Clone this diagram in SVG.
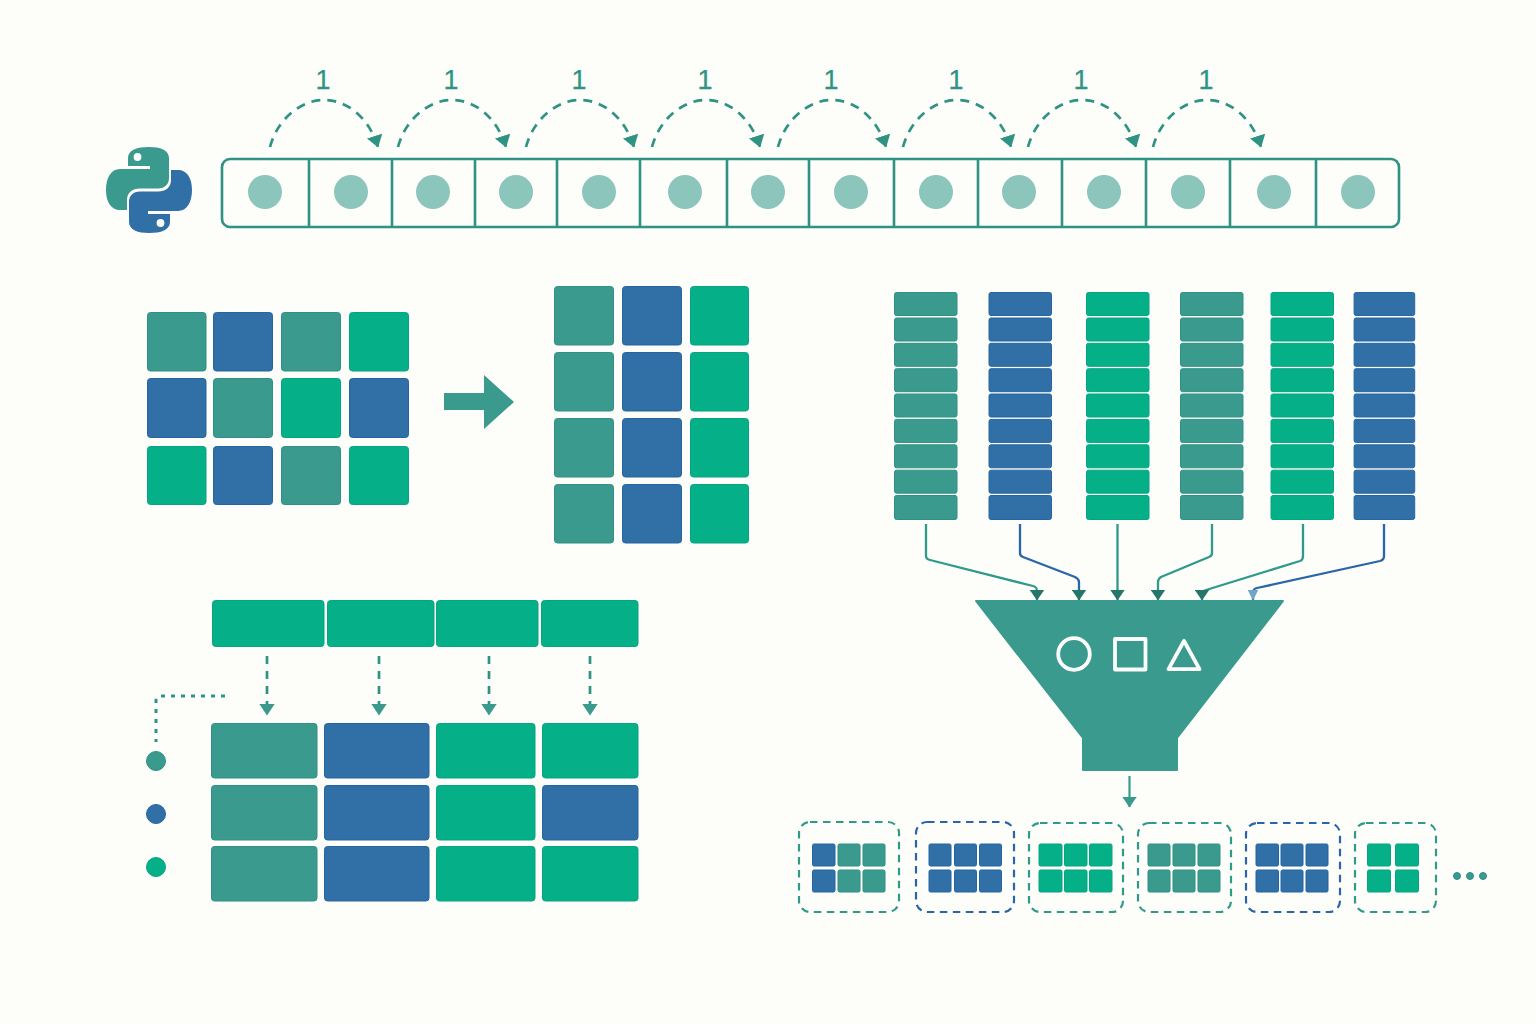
<svg xmlns="http://www.w3.org/2000/svg" xmlns:xlink="http://www.w3.org/1999/xlink" width="1536" height="1024" viewBox="0 0 1536 1024">
<style>
.t{fill:#3A9A8E;stroke:#2F9083;stroke-width:1}.b{fill:#3170A6;stroke:#2565A2;stroke-width:1}.g{fill:#05AF87;stroke:#05A580;stroke-width:1}
.num{font-family:"Liberation Sans",Arial,sans-serif;font-size:27px;fill:#2F9384;stroke:#2F9384;stroke-width:.25;text-anchor:middle}
.arc{fill:none;stroke:#2F9384;stroke-width:2.7;stroke-dasharray:9 7;marker-end:url(#arcHead)}
.cell{fill:none;stroke:#2F9384;stroke-width:2.6}
.dot{fill:#8BC5BB}
.in{fill:none;stroke-width:2.3;stroke-linejoin:round;marker-end:url(#inHead)}
.tl{stroke:#2F9A8A}.bl{stroke:#2A65A8}
.drop{fill:none;stroke:#2F9384;stroke-width:2.7;stroke-dasharray:8 7;marker-end:url(#dropHead)}
.dash{fill:none;stroke-width:2.2;stroke-dasharray:7.5 5.5}
.icon{fill:none;stroke:#FBFDFB;stroke-width:3.8;stroke-linejoin:round}
</style>
<defs>
<marker id="arcHead" markerUnits="userSpaceOnUse" markerWidth="12" markerHeight="16" viewBox="0 0 12 16" refX="11.5" refY="8" orient="auto"><path d="M0 0L12 8L0 16z" fill="#2F9384"/></marker>
<marker id="inHead" markerUnits="userSpaceOnUse" markerWidth="11" markerHeight="15" viewBox="0 0 11 15" refX="10.5" refY="7.5" orient="auto"><path d="M0 0L11 7.5L0 15z" fill="#25756B"/></marker>
<marker id="inHeadB" markerUnits="userSpaceOnUse" markerWidth="11" markerHeight="11" viewBox="0 0 11 11" refX="10.5" refY="5.5" orient="auto"><path d="M0 0L11 5.5L0 11z" fill="#6FA6C9"/></marker>
<marker id="outHead" markerUnits="userSpaceOnUse" markerWidth="11" markerHeight="15" viewBox="0 0 11 15" refX="10.5" refY="7.5" orient="auto"><path d="M0 0L11 7.5L0 15z" fill="#3A9A8E"/></marker>
<marker id="dropHead" markerUnits="userSpaceOnUse" markerWidth="12" markerHeight="16" viewBox="0 0 12 16" refX="11.5" refY="8" orient="auto"><path d="M0 0L12 8L0 16z" fill="#3A9A8E"/></marker>
<g id="cells">
<rect x=".5" y="292.5" width="62.5" height="23" rx="2"/><rect x=".5" y="318" width="62.5" height="23" rx="2"/><rect x=".5" y="343.3" width="62.5" height="23" rx="2"/><rect x=".5" y="368.7" width="62.5" height="23" rx="2"/><rect x=".5" y="394" width="62.5" height="23" rx="2"/><rect x=".5" y="419.4" width="62.5" height="23" rx="2"/><rect x=".5" y="444.8" width="62.5" height="23" rx="2"/><rect x=".5" y="470.2" width="62.5" height="23" rx="2"/><rect x=".5" y="495.5" width="62.5" height="24" rx="2"/>
</g>
<path id="snake" d="M149 147C137 147 128 150 128 158L128 166L150 166L150 169L120 169C111 169 106 178 106 190C106 202 111 210 120 210L127 210L127 200C127 193 132 188.5 140 188.5L158 188.5C165 188.5 169 184 169 178L169 158C169 150 160 147 149 147Z"/>
</defs>
<rect width="1536" height="1024" fill="#FDFDF9"/>

<g id="python-logo">
<use href="#snake" class="t" style="stroke:none"/>
<use href="#snake" class="b" style="stroke:none" transform="rotate(180 149 190)"/>
<circle cx="137.5" cy="157" r="3.9" fill="#FDFDF9"/>
<circle cx="160.5" cy="223" r="3.9" fill="#FDFDF9"/>
</g>

<g id="array">
<rect class="cell" x="222" y="159" width="1177" height="68" rx="8"/>
<path class="cell" d="M309 159V227M392 159V227M475 159V227M557 159V227M640 159V227M727 159V227M809 159V227M894 159V227M978 159V227M1062 159V227M1146 159V227M1230 159V227M1316 159V227"/>
<circle class="dot" cx="265" cy="192" r="17"/><circle class="dot" cx="351" cy="192" r="17"/><circle class="dot" cx="433" cy="192" r="17"/><circle class="dot" cx="516" cy="192" r="17"/><circle class="dot" cx="599" cy="192" r="17"/><circle class="dot" cx="685" cy="192" r="17"/><circle class="dot" cx="768" cy="192" r="17"/><circle class="dot" cx="851" cy="192" r="17"/><circle class="dot" cx="936" cy="192" r="17"/><circle class="dot" cx="1019" cy="192" r="17"/><circle class="dot" cx="1104" cy="192" r="17"/><circle class="dot" cx="1188" cy="192" r="17"/><circle class="dot" cx="1274" cy="192" r="17"/><circle class="dot" cx="1358" cy="192" r="17"/>
</g>

<g id="step-labels">
<text class="num" x="323" y="88.5">1</text><text class="num" x="451" y="88.5">1</text><text class="num" x="579" y="88.5">1</text><text class="num" x="705" y="88.5">1</text><text class="num" x="831" y="88.5">1</text><text class="num" x="956" y="88.5">1</text><text class="num" x="1081" y="88.5">1</text><text class="num" x="1206" y="88.5">1</text>
</g>

<g id="step-arcs">
<path class="arc" d="M270 147c7-27 30-47 54-47c21 0 44 15 54 47"/>
<path class="arc" d="M398 147c7-27 30-47 54-47c21 0 44 15 54 47"/>
<path class="arc" d="M526 147c7-27 30-47 54-47c21 0 44 15 54 47"/>
<path class="arc" d="M652 147c7-27 30-47 54-47c21 0 44 15 54 47"/>
<path class="arc" d="M778 147c7-27 30-47 54-47c21 0 44 15 54 47"/>
<path class="arc" d="M903 147c7-27 30-47 54-47c21 0 44 15 54 47"/>
<path class="arc" d="M1028 147c7-27 30-47 54-47c21 0 44 15 54 47"/>
<path class="arc" d="M1153 147c7-27 30-47 54-47c21 0 44 15 54 47"/>
</g>

<g id="grid-wide">
<rect class="t" x="147.5" y="312.5" width="58.5" height="58.5" rx="3"/><rect class="b" x="213.5" y="312.5" width="59" height="58.5" rx="3"/><rect class="t" x="281.5" y="312.5" width="59" height="58.5" rx="3"/><rect class="g" x="349.5" y="312.5" width="59" height="58.5" rx="3"/>
<rect class="b" x="147.5" y="378.5" width="58.5" height="59" rx="3"/><rect class="t" x="213.5" y="378.5" width="59" height="59" rx="3"/><rect class="g" x="281.5" y="378.5" width="59" height="59" rx="3"/><rect class="b" x="349.5" y="378.5" width="59" height="59" rx="3"/>
<rect class="g" x="147.5" y="446.5" width="58.5" height="58" rx="3"/><rect class="b" x="213.5" y="446.5" width="59" height="58" rx="3"/><rect class="t" x="281.5" y="446.5" width="59" height="58" rx="3"/><rect class="g" x="349.5" y="446.5" width="59" height="58" rx="3"/>
</g>

<g id="reshape-arrow">
<path class="t" style="stroke:none" d="M444 393H484V375L514 402L484 429V410H444Z"/>
</g>

<g id="grid-tall">
<rect class="t" x="554.5" y="286.5" width="59" height="58.5" rx="3"/><rect class="b" x="622.5" y="286.5" width="59" height="58.5" rx="3"/><rect class="g" x="690.5" y="286.5" width="58" height="58.5" rx="3"/>
<rect class="t" x="554.5" y="352.5" width="59" height="58.5" rx="3"/><rect class="b" x="622.5" y="352.5" width="59" height="58.5" rx="3"/><rect class="g" x="690.5" y="352.5" width="58" height="58.5" rx="3"/>
<rect class="t" x="554.5" y="418.5" width="59" height="58.5" rx="3"/><rect class="b" x="622.5" y="418.5" width="59" height="58.5" rx="3"/><rect class="g" x="690.5" y="418.5" width="58" height="58.5" rx="3"/>
<rect class="t" x="554.5" y="484.5" width="59" height="58.5" rx="3"/><rect class="b" x="622.5" y="484.5" width="59" height="58.5" rx="3"/><rect class="g" x="690.5" y="484.5" width="58" height="58.5" rx="3"/>
</g>

<g id="stack-1"><use href="#cells" class="t" x="894"/></g>
<g id="stack-2"><use href="#cells" class="b" x="988.5"/></g>
<g id="stack-3"><use href="#cells" class="g" x="1086"/></g>
<g id="stack-4"><use href="#cells" class="t" x="1180"/></g>
<g id="stack-5"><use href="#cells" class="g" x="1270.5"/></g>
<g id="stack-6"><use href="#cells" class="b" transform="translate(1353.6 0) scale(.97 1)"/></g>

<g id="connectors">
<path class="in tl" d="M926 524V556Q926 559 930 560L1033 586Q1037 587 1037 591V600"/>
<path class="in bl" d="M1020 524V553Q1020 556 1023 557L1075 577Q1079 579 1079 582V600"/>
<path class="in tl" d="M1117.5 524V600"/>
<path class="in tl" d="M1212 524V553Q1212 556 1209 557L1161 577Q1158 579 1158 582V600"/>
<path class="in tl" d="M1303 524V556Q1303 560 1300 561L1206 590Q1202 591 1202 594V600"/>
<path class="in bl" style="marker-end:url(#inHeadB)" d="M1384 524V556Q1384 560 1380 561L1257 588Q1253 589 1253 592V600"/>
<path fill="none" stroke="#3A9A8E" stroke-width="2.2" marker-end="url(#outHead)" d="M1129.5 776V807"/>
<path class="drop" d="M267 656V715"/>
<path class="drop" d="M379 656V715"/>
<path class="drop" d="M489 656V715"/>
<path class="drop" d="M590 656V715"/>
<path fill="none" stroke="#2F9384" stroke-width="3" stroke-dasharray="4 6" d="M225 696H161Q156 696 156 701V742"/>
</g>

<g id="funnel">
<path class="t" style="stroke:#3A9A8E;stroke-width:2;stroke-linejoin:round" d="M976 601H1283L1177 738V770H1083V738Z"/>
<circle class="icon" cx="1074" cy="654" r="15.8"/>
<rect class="icon" x="1115" y="639" width="30.5" height="30.5"/>
<path class="icon" d="M1184 641L1168.5 669.2H1199.5Z"/>
</g>

<g id="header">
<rect class="g" x="212.5" y="600.5" width="111.5" height="46" rx="3"/><rect class="g" x="327.5" y="600.5" width="106.5" height="46" rx="3"/><rect class="g" x="436.5" y="600.5" width="101.5" height="46" rx="3"/><rect class="g" x="541.5" y="600.5" width="96.5" height="46" rx="3"/>
</g>

<g id="table">
<rect class="t" x="211.5" y="723.5" width="105.5" height="54.5" rx="3"/><rect class="b" x="324.5" y="723.5" width="104.5" height="54.5" rx="3"/><rect class="g" x="436.5" y="723.5" width="98.5" height="54.5" rx="3"/><rect class="g" x="542.5" y="723.5" width="95.5" height="54.5" rx="3"/>
<rect class="t" x="211.5" y="785.5" width="105.5" height="54.5" rx="3"/><rect class="b" x="324.5" y="785.5" width="104.5" height="54.5" rx="3"/><rect class="g" x="436.5" y="785.5" width="98.5" height="54.5" rx="3"/><rect class="b" x="542.5" y="785.5" width="95.5" height="54.5" rx="3"/>
<rect class="t" x="211.5" y="846.5" width="105.5" height="54.5" rx="3"/><rect class="b" x="324.5" y="846.5" width="104.5" height="54.5" rx="3"/><rect class="g" x="436.5" y="846.5" width="98.5" height="54.5" rx="3"/><rect class="g" x="542.5" y="846.5" width="95.5" height="54.5" rx="3"/>
</g>

<g id="legend">
<circle class="t" cx="156" cy="761" r="9.5"/><circle class="b" cx="156" cy="814" r="9.5"/><circle class="g" cx="156" cy="867" r="9.5"/>
</g>

<g id="batch-1">
<rect class="dash tl" x="799" y="822" width="100" height="90" rx="11"/>
<rect class="b" x="812.5" y="844" width="22.5" height="22" rx="1.5"/><rect class="t" x="838" y="844" width="22" height="22" rx="1.5"/><rect class="t" x="863" y="844" width="22" height="22" rx="1.5"/>
<rect class="b" x="812.5" y="870" width="22.5" height="22" rx="1.5"/><rect class="t" x="838" y="870" width="22" height="22" rx="1.5"/><rect class="t" x="863" y="870" width="22" height="22" rx="1.5"/>
</g>
<g id="batch-2">
<rect class="dash bl" x="916" y="822" width="98" height="90" rx="11"/>
<rect class="b" x="929" y="844" width="22" height="22" rx="1.5"/><rect class="b" x="954.5" y="844" width="22" height="22" rx="1.5"/><rect class="b" x="979.5" y="844" width="22" height="22" rx="1.5"/>
<rect class="b" x="929" y="870" width="22" height="22" rx="1.5"/><rect class="b" x="954.5" y="870" width="22" height="22" rx="1.5"/><rect class="b" x="979.5" y="870" width="22" height="22" rx="1.5"/>
</g>
<g id="batch-3">
<rect class="dash tl" x="1029" y="823" width="94" height="89" rx="11"/>
<rect class="g" x="1039" y="844" width="23" height="22" rx="1.5"/><rect class="g" x="1064.5" y="844" width="22.5" height="22" rx="1.5"/><rect class="g" x="1089.5" y="844" width="22.5" height="22" rx="1.5"/>
<rect class="g" x="1039" y="870" width="23" height="22" rx="1.5"/><rect class="g" x="1064.5" y="870" width="22.5" height="22" rx="1.5"/><rect class="g" x="1089.5" y="870" width="22.5" height="22" rx="1.5"/>
</g>
<g id="batch-4">
<rect class="dash tl" x="1138" y="823" width="93" height="89" rx="11"/>
<rect class="t" x="1148" y="844" width="22" height="22" rx="1.5"/><rect class="t" x="1173" y="844" width="22" height="22" rx="1.5"/><rect class="t" x="1198" y="844" width="22" height="22" rx="1.5"/>
<rect class="t" x="1148" y="870" width="22" height="22" rx="1.5"/><rect class="t" x="1173" y="870" width="22" height="22" rx="1.5"/><rect class="t" x="1198" y="870" width="22" height="22" rx="1.5"/>
</g>
<g id="batch-5">
<rect class="dash bl" x="1246" y="823" width="94" height="89" rx="11"/>
<rect class="b" x="1256" y="844" width="22.5" height="22" rx="1.5"/><rect class="b" x="1281" y="844" width="22" height="22" rx="1.5"/><rect class="b" x="1306" y="844" width="22" height="22" rx="1.5"/>
<rect class="b" x="1256" y="870" width="22.5" height="22" rx="1.5"/><rect class="b" x="1281" y="870" width="22" height="22" rx="1.5"/><rect class="b" x="1306" y="870" width="22" height="22" rx="1.5"/>
</g>
<g id="batch-6">
<rect class="dash tl" x="1355" y="823" width="81" height="89" rx="11"/>
<rect class="g" x="1367.5" y="844" width="23" height="22" rx="1.5"/><rect class="g" x="1395.5" y="844" width="23" height="22" rx="1.5"/>
<rect class="g" x="1367.5" y="870" width="23" height="22" rx="1.5"/><rect class="g" x="1395.5" y="870" width="23" height="22" rx="1.5"/>
</g>
<g id="ellipsis">
<circle class="t" cx="1457" cy="876" r="3.5"/><circle class="t" cx="1470" cy="876" r="3.5"/><circle class="t" cx="1483" cy="876" r="3.5"/>
</g>
</svg>
